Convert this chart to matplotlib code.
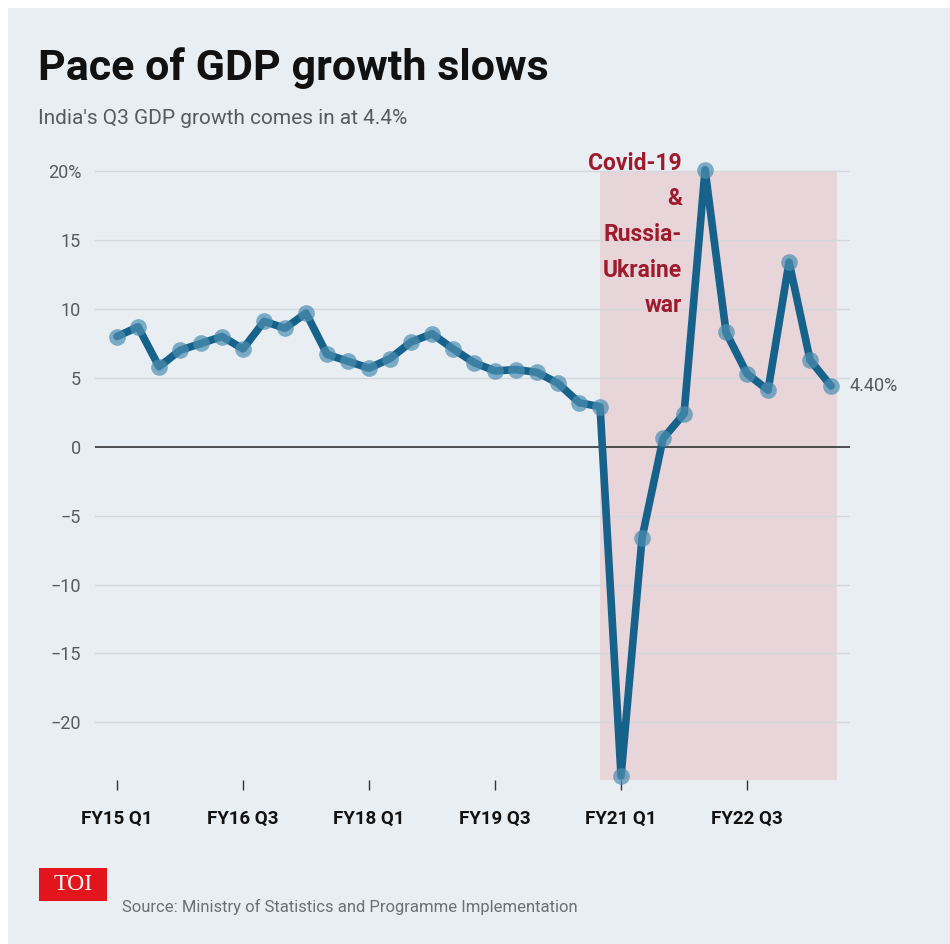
import matplotlib
matplotlib.use("Agg")
import matplotlib.pyplot as plt
from matplotlib import font_manager
from matplotlib.patches import Rectangle

# Data: India quarterly GDP growth (%), FY15 Q1 .. FY23 Q3
growth = [8.0, 8.7, 5.8, 7.0, 7.5, 8.0, 7.1, 9.1, 8.6, 9.7,
          6.7, 6.2, 5.7, 6.4, 7.6, 8.2, 7.1, 6.1, 5.5, 5.6,
          5.4, 4.6, 3.2, 2.9, -23.9, -6.6, 0.6, 2.4, 20.1, 8.3,
          5.3, 4.1, 13.4, 6.3, 4.4]
tick_idx = [0, 6, 12, 18, 24, 30]
tick_labels = ["FY15 Q1", "FY16 Q3", "FY18 Q1", "FY19 Q3", "FY21 Q1", "FY22 Q3"]
y_ticks = [20, 15, 10, 5, 0, -5, -10, -15, -20]
y_labels = ["20%", "15", "10", "5", "0", "\u22125", "\u221210", "\u221215", "\u221220"]
shade_start, shade_end = 23, 34.3
last_label = "4.40%"

names = {f.name for f in font_manager.fontManager.ttflist}
narrow = "Liberation Sans Narrow" if "Liberation Sans Narrow" in names else "Roboto"
plt.rcParams["font.family"] = [narrow, "DejaVu Sans"]

bg = "#E9EEF3"
line_c = "#17628A"
mark_c = "#4D8DB0"
red_c = "#9E1B2E"
gray_c = "#555B61"

fig = plt.figure(figsize=(9.5, 9.44), dpi=100)
fig.patch.set_facecolor("white")
fig.add_artist(Rectangle((8 / 950, 0), 1, 1 - 8 / 944, transform=fig.transFigure,
                         facecolor=bg, edgecolor="none", zorder=-10))

ax = fig.add_axes([0.1, 0.1735, 0.7947, 0.6525])
ax.set_facecolor("none")
x = list(range(len(growth)))

ax.axvspan(shade_start, shade_end, ymin=0, ymax=(20 + 24.2) / (20.5 + 24.2),
           color="#E8D5D9", zorder=0, lw=0)
for v in y_ticks:
    if v == 0:
        ax.axhline(0, color="#333333", lw=1.2, zorder=1)
    else:
        ax.axhline(v, color="#D3D8DD", lw=1, zorder=0.5)

ax.plot(x, growth, color=line_c, lw=5.5, zorder=3, solid_joinstyle="round",
        solid_capstyle="round", clip_on=False)
ax.plot(x, growth, "o", color=mark_c, ms=12, alpha=0.7, mec="none", zorder=4,
        clip_on=False)

ax.set_xlim(-1.05, 34.9)
ax.set_ylim(-24.2, 20.5)
ax.set_yticks(y_ticks)
ax.set_yticklabels(y_labels, color=gray_c, fontsize=13)
ax.set_xticks(tick_idx)
ax.set_xticklabels(tick_labels, fontsize=13.5, fontweight="bold", color="#111111")
ax.tick_params(axis="y", length=0, pad=10)
ax.tick_params(axis="x", length=7, width=1, color="#333333", pad=14, direction="out")
for s in ax.spines.values():
    s.set_visible(False)

ax.text(34.9, growth[-1], last_label, color=gray_c, fontsize=13, va="center", ha="left")
ax.text(26.9, 15.4, "Covid-19\n&\nRussia-\nUkraine\nwar", color=red_c, fontsize=16.5,
        fontweight="bold", ha="right", va="center", linespacing=1.7)

fig.text(38 / 950, 1 - 68 / 944, "Pace of GDP growth slows", fontsize=31,
         fontweight="bold", color="#111111", va="center", ha="left")
fig.text(38 / 950, 1 - 119 / 944, "India's Q3 GDP growth comes in at 4.4%", fontsize=15,
         color=gray_c, va="center", ha="left")

fig.add_artist(Rectangle((39 / 950, 1 - 901 / 944), 68 / 950, 33 / 944,
                         transform=fig.transFigure, facecolor="#E3151C", edgecolor="none"))
fig.text(73 / 950, 1 - 884 / 944, "TOI", fontsize=17, color="white", family="Liberation Serif",
         ha="center", va="center")
fig.text(122 / 950, 1 - 907 / 944, "Source: Ministry of Statistics and Programme Implementation",
         fontsize=12, color="#6A7077", va="center", ha="left")

fig.savefig("out.png", dpi=100, facecolor=fig.get_facecolor())
